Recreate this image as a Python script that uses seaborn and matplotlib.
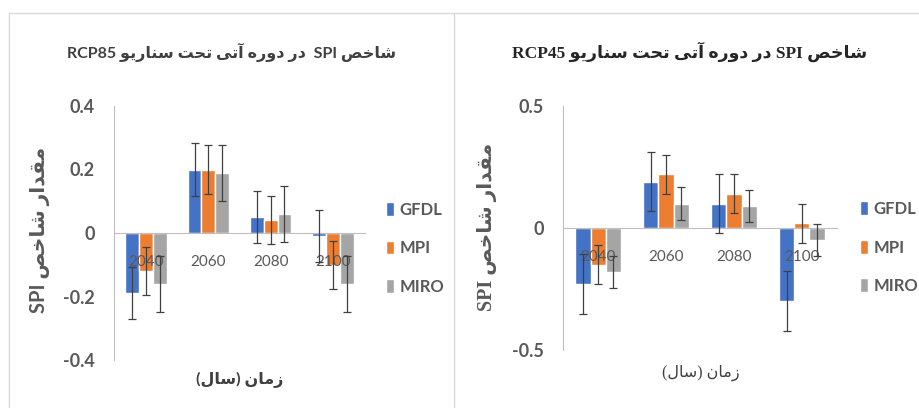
import numpy as np
import pandas as pd
import matplotlib
matplotlib.use("Agg")
import matplotlib.pyplot as plt
from matplotlib.lines import Line2D
import seaborn as sns

# ================================
# Data
# ================================
years = ['2040', '2060', '2080', '2100']
models = ['GFDL', 'MPI', 'MIRO']
colors = ['#4472C4', '#ED7D31', '#A5A5A5']

# RCP85 (left panel)
rcp85_gfdl = [-0.19, 0.20, 0.05, -0.01]
rcp85_mpi = [-0.12, 0.20, 0.04, -0.10]
rcp85_miro = [-0.16, 0.19, 0.06, -0.16]
rcp85_err_gfdl = [0.082, 0.082, 0.082, 0.082]
rcp85_err_mpi = [0.076, 0.076, 0.076, 0.076]
rcp85_err_miro = [0.088, 0.088, 0.088, 0.088]

# RCP45 (right panel)
rcp45_gfdl = [-0.23, 0.19, 0.10, -0.30]
rcp45_mpi = [-0.15, 0.22, 0.14, 0.02]
rcp45_miro = [-0.18, 0.10, 0.09, -0.05]
rcp45_err_gfdl = [0.122, 0.122, 0.122, 0.122]
rcp45_err_mpi = [0.080, 0.080, 0.080, 0.080]
rcp45_err_miro = [0.066, 0.066, 0.066, 0.066]

rcp85_ticks = [-0.4, -0.2, 0, 0.2, 0.4]
rcp45_ticks = [-0.5, 0, 0.5]

title_85 = 'شاخص SPI  در دوره آتی تحت سناریو RCP85'
title_45 = 'شاخص SPI در دوره آتی تحت سناریو RCP45'
ylabel_txt = 'مقدار شاخص SPI'
xlabel_txt = 'زمان (سال)'

# ================================
# Minimal Persian shaping (matplotlib has no RTL / joining support)
# ================================
FORMS = {
    'ا': ('\ufe8d', '\ufe8e', None, None),
    'آ': ('\ufe81', '\ufe82', None, None),
    'د': ('\ufea9', '\ufeaa', None, None),
    'ر': ('\ufead', '\ufeae', None, None),
    'ز': ('\ufeaf', '\ufeb0', None, None),
    'و': ('\ufeed', '\ufeee', None, None),
    'ت': ('\ufe95', '\ufe96', '\ufe97', '\ufe98'),
    'ح': ('\ufea1', '\ufea2', '\ufea3', '\ufea4'),
    'خ': ('\ufea5', '\ufea6', '\ufea7', '\ufea8'),
    'س': ('\ufeb1', '\ufeb2', '\ufeb3', '\ufeb4'),
    'ش': ('\ufeb5', '\ufeb6', '\ufeb7', '\ufeb8'),
    'ص': ('\ufeb9', '\ufeba', '\ufebb', '\ufebc'),
    'ق': ('\ufed5', '\ufed6', '\ufed7', '\ufed8'),
    'ل': ('\ufedd', '\ufede', '\ufedf', '\ufee0'),
    'م': ('\ufee1', '\ufee2', '\ufee3', '\ufee4'),
    'ن': ('\ufee5', '\ufee6', '\ufee7', '\ufee8'),
    'ه': ('\ufee9', '\ufeea', '\ufeeb', '\ufeec'),
    'ی': ('\ufbfc', '\ufbfd', '\ufbfe', '\ufbff'),
}


def shape_word(word):
    out = []
    for i, ch in enumerate(word):
        if ch not in FORMS:
            out.append(ch)
            continue
        prev = word[i - 1] if i > 0 else ''
        nxt = word[i + 1] if i + 1 < len(word) else ''
        join_prev = prev in FORMS and FORMS[prev][2] is not None
        join_next = nxt in FORMS and FORMS[ch][2] is not None
        iso, fin, ini, med = FORMS[ch]
        if join_prev and join_next:
            out.append(med)
        elif join_prev:
            out.append(fin)
        elif join_next:
            out.append(ini)
        else:
            out.append(iso)
    return ''.join(out)


def rtl(text):
    mirror = {'(': ')', ')': '('}
    parts = []
    for tok in reversed(text.split(' ')):
        if any(c in FORMS for c in tok):
            tok = ''.join(mirror.get(c, c) for c in reversed(shape_word(tok)))
        parts.append(tok)
    return ' '.join(parts)


# ================================
# Plot
# ================================
sns.set_style("white")
plt.rcParams['font.family'] = ['Lato', 'DejaVu Sans']

SANS = ['Lato', 'DejaVu Sans']
SERIF = ['Liberation Serif', 'DejaVu Sans']
TICK_COL = '#595959'
AX_COL = '#BFBFBF'

W, H = 919, 408
fig = plt.figure(figsize=(W / 100, H / 100), dpi=100)


def px_axes(x0, y0, x1, y1):
    return fig.add_axes([x0 / W, 1 - y1 / H, (x1 - x0) / W, (y1 - y0) / H])


def draw_panel(ax, series, errs, ticks, legend_anchor):
    df = pd.DataFrame({
        'year': np.tile(years, len(models)),
        'model': np.repeat(models, len(years)),
        'value': np.concatenate(series),
    })
    sns.barplot(data=df, x='year', y='value', hue='model', order=years,
                hue_order=models, palette=colors, saturation=1, width=0.67,
                errorbar=None, ax=ax)
    for cont, err in zip(ax.containers, errs):
        xs = [b.get_x() + b.get_width() / 2 for b in cont]
        ys = [b.get_height() for b in cont]
        ax.errorbar(xs, ys, yerr=err, fmt='none', ecolor='#404040',
                    elinewidth=0.9, capsize=3, capthick=0.9, zorder=3)
    ax.set_axisbelow(False)  # year labels sit on top of the bars, like Excel
    ax.set_ylim(ticks[0], ticks[-1])
    ax.set_yticks(ticks)
    ax.set_yticklabels([f"{t:g}" for t in ticks])
    ax.set_xlabel('')
    ax.set_ylabel('')
    for s in ['top', 'right']:
        ax.spines[s].set_visible(False)
    ax.spines['bottom'].set_position(('data', 0))
    ax.spines['bottom'].set_color(AX_COL)
    ax.spines['left'].set_color(AX_COL)
    ax.tick_params(axis='x', length=0, pad=16, labelsize=11, labelcolor=TICK_COL)
    ax.tick_params(axis='y', length=0, pad=14, labelsize=13, labelcolor=TICK_COL)
    for lab in ax.get_yticklabels():
        lab.set_fontweight('bold')
    ax.patch.set_alpha(0)
    sns.move_legend(ax, loc='center left', bbox_to_anchor=legend_anchor,
                    frameon=False, title=None, fontsize=12,
                    handlelength=0.45, handleheight=0.9, handletextpad=0.35,
                    labelspacing=1.35, borderpad=0, borderaxespad=0)
    for t in ax.get_legend().get_texts():
        t.set_color(TICK_COL)
        t.set_fontweight('bold')


ax1 = px_axes(114, 106, 365, 360)
draw_panel(ax1, [rcp85_gfdl, rcp85_mpi, rcp85_miro],
           [rcp85_err_gfdl, rcp85_err_mpi, rcp85_err_miro],
           rcp85_ticks, (1.085, 0.44))

ax2 = px_axes(563, 106, 837, 350)
draw_panel(ax2, [rcp45_gfdl, rcp45_mpi, rcp45_miro],
           [rcp45_err_gfdl, rcp45_err_mpi, rcp45_err_miro],
           rcp45_ticks, (1.085, 0.42))

# titles and axis labels
fig.text(232 / W, 1 - 52 / H, rtl(title_85), ha='center', va='center',
         fontsize=11.5, fontweight='bold', color='#404040', family=SANS)
fig.text(690 / W, 1 - 52 / H, rtl(title_45), ha='center', va='center',
         fontsize=12.5, fontweight='bold', color='#262626', family=SERIF)
fig.text(40 / W, 1 - 230 / H, rtl(ylabel_txt), rotation=90, ha='center',
         va='center', fontsize=14.5, fontweight='bold', color=TICK_COL, family=SANS)
fig.text(487 / W, 1 - 227 / H, rtl(ylabel_txt), rotation=90, ha='center',
         va='center', fontsize=14.5, fontweight='bold', color=TICK_COL, family=SERIF)
fig.text(240 / W, 1 - 380 / H, rtl(xlabel_txt), ha='center', va='center',
         fontsize=11.5, fontweight='bold', color='#404040', family=SANS)
fig.text(701 / W, 1 - 373 / H, rtl(xlabel_txt), ha='center', va='center',
         fontsize=11.5, color='#404040', family=SERIF)

# chart frames
frame_col = '#D9D9D9'
fig.add_artist(Line2D([9 / W, 1], [1 - 13 / H, 1 - 13 / H], color=frame_col, lw=1))
fig.add_artist(Line2D([9 / W, 9 / W], [0, 1 - 13 / H], color=frame_col, lw=1))
fig.add_artist(Line2D([454 / W, 454 / W], [0, 1 - 13 / H], color=frame_col, lw=1))

plt.savefig("out.png", dpi=100)
